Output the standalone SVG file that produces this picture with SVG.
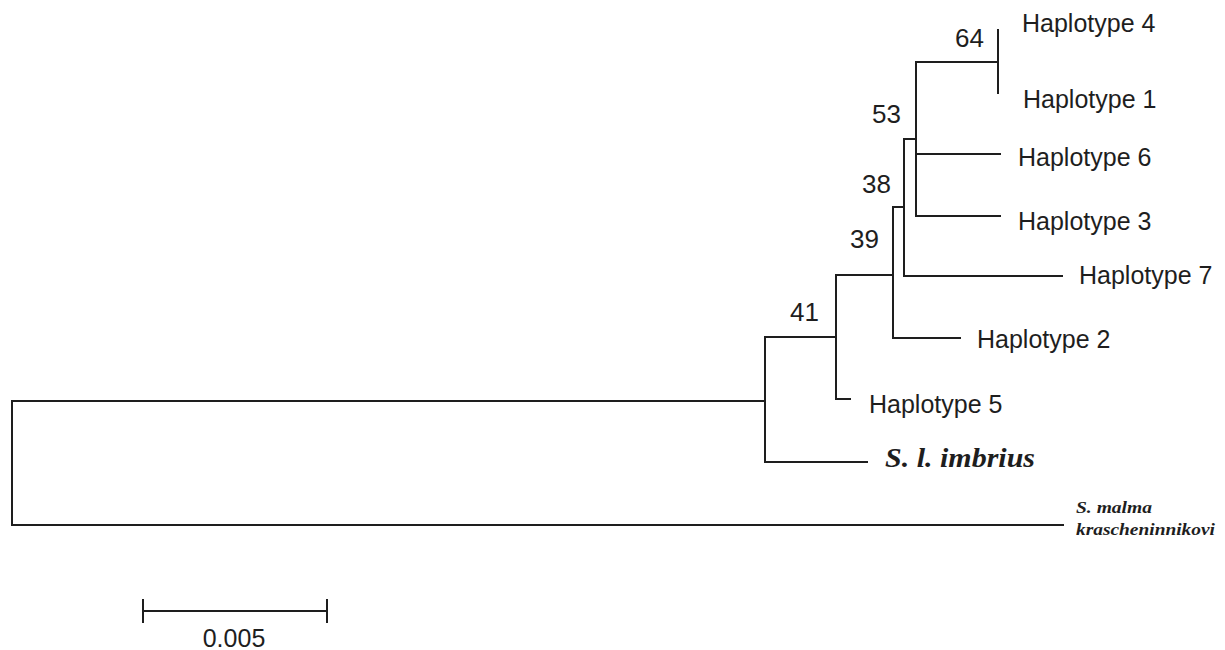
<svg xmlns="http://www.w3.org/2000/svg" width="1225" height="650" viewBox="0 0 1225 650">
<style>
.br{fill:none;stroke:#1e1e1e;stroke-width:2;stroke-linecap:square}
.lab{font-family:"Liberation Sans",Arial,sans-serif;font-size:25px;fill:#1e1e1e}
.bs{font-family:"Liberation Sans",Arial,sans-serif;font-size:26px;fill:#1e1e1e}
.sp{font-family:"Liberation Serif","Times New Roman",serif;font-style:italic;font-weight:bold;fill:#1e1e1e}
</style>
<rect width="1225" height="650" fill="#fff"/>
<g id="connectors">
<path class="br" d="M12,401 H765 M12,401 V525 H1063"/>
<path class="br" d="M765,337 V462 H867 M765,337 H836"/>
<path class="br" d="M836,275 V399 H850 M836,275 H893"/>
<path class="br" d="M893,207 V338 H960 M893,207 H904"/>
<path class="br" d="M904,139 V276 H1062 M904,139 H916"/>
<path class="br" d="M916,62 V216 H1000 M916,154 H1000 M916,62 H998"/>
<path class="br" d="M998,30 V93"/>
</g>
<g id="n-h4"><text class="lab" x="1022" y="32">Haplotype 4</text></g>
<g id="n-h1"><text class="lab" x="1023" y="108">Haplotype 1</text></g>
<g id="n-h6"><text class="lab" x="1018" y="166">Haplotype 6</text></g>
<g id="n-h3"><text class="lab" x="1018" y="230">Haplotype 3</text></g>
<g id="n-h7"><text class="lab" x="1079" y="284">Haplotype 7</text></g>
<g id="n-h2"><text class="lab" x="977" y="348">Haplotype 2</text></g>
<g id="n-h5"><text class="lab" x="869" y="413">Haplotype 5</text></g>
<g id="n-imbrius"><text class="sp" x="885" y="467" font-size="27" textLength="150" lengthAdjust="spacingAndGlyphs">S. l. imbrius</text></g>
<g id="n-malma"><text class="sp" x="1076" y="513" font-size="17" textLength="76" lengthAdjust="spacingAndGlyphs">S. malma</text><text class="sp" x="1076" y="535" font-size="17" textLength="139" lengthAdjust="spacingAndGlyphs">krascheninnikovi</text></g>
<g id="bootstrap">
<text class="bs" x="955" y="47">64</text>
<text class="bs" x="872" y="123">53</text>
<text class="bs" x="862" y="193">38</text>
<text class="bs" x="850" y="248">39</text>
<text class="bs" x="790" y="321">41</text>
</g>
<g id="scale">
<path class="br" d="M143,611 H327 M143,600 V622 M327,600 V622"/>
<text class="lab" x="234" y="647" text-anchor="middle" font-size="27">0.005</text>
</g>
</svg>
